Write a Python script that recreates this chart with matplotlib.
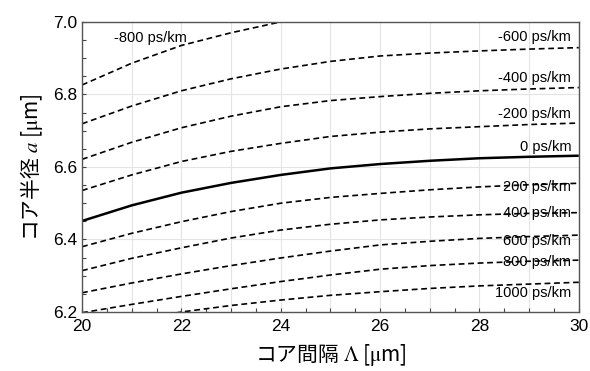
import matplotlib
matplotlib.use("Agg")
import matplotlib.pyplot as plt
from matplotlib.ticker import MultipleLocator, FuncFormatter
import numpy as np

plt.rcParams['font.family'] = ['Liberation Sans', 'Noto Sans CJK JP', 'DejaVu Sans']
plt.rcParams['mathtext.fontset'] = 'stix'

pitch = [20, 21, 22, 23, 24, 25, 26, 27, 28, 29, 30]

# core radius for each dispersion value (ps/km)
disp = [-800, -600, -400, -200, 0, 200, 400, 600, 800, 1000]
radius = {
    -800: [6.826, 6.886, 6.935, 6.970, 7.000, 7.025, 7.045, 7.060, 7.070, 7.078, 7.083],
    -600: [6.719, 6.768, 6.810, 6.843, 6.870, 6.891, 6.906, 6.914, 6.920, 6.925, 6.929],
    -400: [6.621, 6.668, 6.708, 6.740, 6.766, 6.783, 6.794, 6.803, 6.810, 6.815, 6.819],
    -200: [6.535, 6.578, 6.615, 6.643, 6.665, 6.684, 6.696, 6.705, 6.711, 6.717, 6.721],
    0:    [6.451, 6.494, 6.529, 6.556, 6.578, 6.596, 6.608, 6.617, 6.624, 6.628, 6.631],
    200:  [6.380, 6.417, 6.449, 6.477, 6.500, 6.516, 6.527, 6.537, 6.545, 6.551, 6.555],
    400:  [6.314, 6.348, 6.377, 6.404, 6.426, 6.442, 6.454, 6.462, 6.468, 6.472, 6.474],
    600:  [6.253, 6.280, 6.305, 6.328, 6.349, 6.368, 6.385, 6.395, 6.403, 6.408, 6.412],
    800:  [6.198, 6.221, 6.243, 6.264, 6.284, 6.302, 6.318, 6.328, 6.335, 6.340, 6.343],
    1000: [6.150, 6.177, 6.200, 6.218, 6.233, 6.246, 6.256, 6.265, 6.272, 6.277, 6.282],
}

# label anchor (x, y, horizontal alignment)
label_pos = {
    -800: (20.65, 6.955, 'left'),
    -600: (29.85, 6.957, 'right'),
    -400: (29.85, 6.846, 'right'),
    -200: (29.85, 6.745, 'right'),
    0:    (29.85, 6.656, 'right'),
    200:  (29.85, 6.546, 'right'),
    400:  (29.85, 6.472, 'right'),
    600:  (29.85, 6.397, 'right'),
    800:  (29.85, 6.339, 'right'),
    1000: (29.85, 6.252, 'right'),
}

fig = plt.figure(figsize=(5.9, 3.71), dpi=100)
ax = fig.add_axes([0.139, 0.159, 0.842, 0.782])

for d in disp:
    if d == 0:
        ax.plot(pitch, radius[d], color='black', lw=1.8, solid_capstyle='butt')
    else:
        ax.plot(pitch, radius[d], color='black', lw=1.2, linestyle=(0, (3.5, 2.2)))
    lx, ly, ha = label_pos[d]
    ax.text(lx, ly, f'{d} ps/km', ha=ha, va='center', fontsize=10.5)

ax.set_xlim(20, 30)
ax.set_ylim(6.2, 7.0)
ax.xaxis.set_major_locator(MultipleLocator(1))
ax.xaxis.set_minor_locator(MultipleLocator(0.5))
ax.xaxis.set_major_formatter(FuncFormatter(lambda v, p: f'{v:.0f}' if round(v) % 2 == 0 else ''))
ax.yaxis.set_major_locator(MultipleLocator(0.2))
ax.yaxis.set_minor_locator(MultipleLocator(0.05))
ax.yaxis.set_major_formatter(FuncFormatter(lambda v, p: f'{v:.1f}'))
ax.tick_params(which='both', direction='in', length=3, width=0.8, colors='#444444',
               labelcolor='black', labelsize=12.5)
ax.tick_params(axis='x', pad=5)
ax.grid(True, which='major', color='#e4e4e4', lw=0.8)
ax.set_axisbelow(True)
for s in ax.spines.values():
    s.set_color('#555555')
    s.set_linewidth(1.0)

ax.set_xlabel('コア間隔 $\\Lambda$ [$\\mathrm{\\mu}$m]', fontsize=15, labelpad=6,
              family='Noto Sans CJK JP')
ax.set_ylabel('コア半径 $a$ [$\\mathrm{\\mu}$m]', fontsize=15, labelpad=6,
              family='Noto Sans CJK JP')

fig.savefig('out.png', dpi=100)
